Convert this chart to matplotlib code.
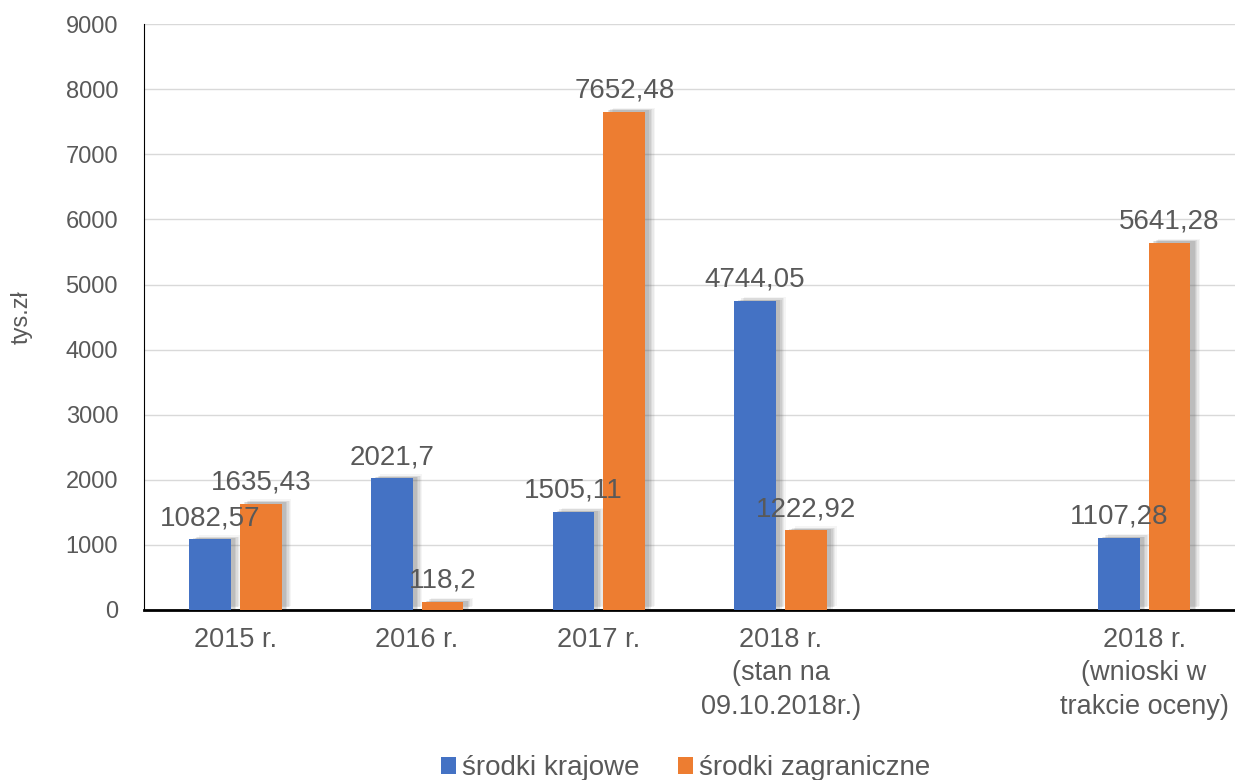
import numpy as np
import matplotlib.pyplot as plt
import matplotlib.patheffects as pe

plt.rcParams['font.family'] = ['Liberation Sans', 'DejaVu Sans']

categories = ['2015 r.', '2016 r.', '2017 r.', '2018 r.\n(stan na\n09.10.2018r.)', '',
              '2018 r.\n(wnioski w\ntrakcie oceny)']
krajowe = [1082.57, 2021.7, 1505.11, 4744.05, None, 1107.28]
zagraniczne = [1635.43, 118.2, 7652.48, 1222.92, None, 5641.28]
krajowe_lbl = ['1082,57', '2021,7', '1505,11', '4744,05', '', '1107,28']
zagraniczne_lbl = ['1635,43', '118,2', '7652,48', '1222,92', '', '5641,28']

blue = '#4472C4'
orange = '#ED7D31'
txt = '#595959'

fig = plt.figure(figsize=(12.35, 7.8), dpi=100)
ax = fig.add_axes([0.117, 0.218, 0.883, 0.751])

x = np.arange(len(categories))
w = 0.23
off = 0.14

# soft shadow: a few layered offsets
shadow = []
for dx, dy, a in [(7, 3, 0.06), (6, 2, 0.08), (5, 2, 0.1), (4, 1, 0.12), (3, 1, 0.14)]:
    shadow.append(pe.SimplePatchShadow(offset=(dx, dy), shadow_rgbFace='#606060', alpha=a))
shadow.append(pe.Normal())

kv = [v if v is not None else 0 for v in krajowe]
zv = [v if v is not None else 0 for v in zagraniczne]
b1 = ax.bar(x - off, kv, w, color=blue, label='środki krajowe', zorder=3)
b2 = ax.bar(x + off, zv, w, color=orange, label='środki zagraniczne', zorder=3)

for i in range(len(x)):
    if krajowe_lbl[i]:
        ax.annotate(krajowe_lbl[i], (x[i] - off, kv[i]), xytext=(0, 6), textcoords='offset points',
                    ha='center', va='bottom', fontsize=20, color=txt, zorder=4)
    if zagraniczne_lbl[i]:
        ax.annotate(zagraniczne_lbl[i], (x[i] + off, zv[i]), xytext=(0, 6), textcoords='offset points',
                    ha='center', va='bottom', fontsize=20, color=txt, zorder=4)

ax.set_xlim(-0.5, 5.5)
ax.set_ylim(0, 9000)
ax.set_yticks(range(0, 9001, 1000))
ax.set_xticks(x)
ax.set_xticklabels(categories, fontsize=19.5, color=txt, linespacing=1.38)
ax.tick_params(axis='y', labelsize=17, labelcolor=txt, length=0, pad=19)
ax.tick_params(axis='x', length=0, pad=12)
ax.yaxis.grid(True, color='#D9D9D9', linewidth=1, zorder=0)
ax.set_axisbelow(True)
for s in ['top', 'right']:
    ax.spines[s].set_visible(False)
ax.spines['left'].set_color('black')
ax.spines['bottom'].set_color('black')
ax.spines['bottom'].set_linewidth(2)
ax.set_ylabel('tys.zł', fontsize=17, color=txt, labelpad=24)

ax.legend(loc='lower center', bbox_to_anchor=(0.496, -0.335), ncol=2, frameon=False,
          fontsize=20, labelcolor=txt, handlelength=0.55, handleheight=0.55,
          handletextpad=0.2, columnspacing=1.4)

# shadows only on the bars, not on legend handles
for b in list(b1) + list(b2):
    if b.get_height() > 0:
        b.set_path_effects(shadow)
    else:
        b.set_visible(False)

fig.savefig('out.png', dpi=100)
